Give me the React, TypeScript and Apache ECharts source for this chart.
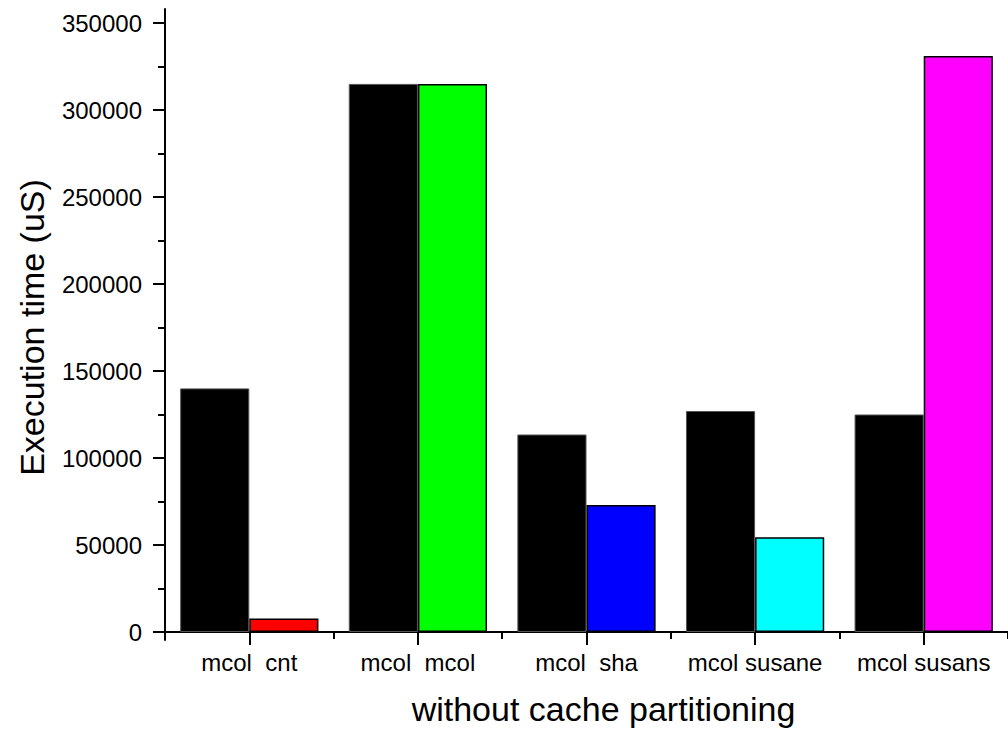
import React, { useEffect, useRef } from "react";
import * as echarts from "echarts";

const categories = ["mcol  cnt", "mcol  mcol", "mcol  sha", "mcol susane", "mcol susans"];
const mcolValues = [140000, 315000, 113500, 127000, 125000];
const partnerValues = [7800, 315000, 73000, 54500, 331000];
const partnerColors = ["#ff0000", "#00ff00", "#0000ff", "#00ffff", "#ff00ff"];
const yMin = 0;
const yMax = 350000;
const yInterval = 50000;

const FONT = "Liberation Sans, Arial, sans-serif";

export default function App() {
  const ref = useRef<HTMLDivElement>(null);
  useEffect(() => {
    if (!ref.current) return;
    const chart = echarts.init(ref.current, null, { renderer: "svg" });
    const gridBase = { left: 165, right: -4, bottom: 91 };
    chart.setOption({
      animation: false,
      backgroundColor: "#ffffff",
      grid: [
        { ...gridBase, top: 23 },
        { ...gridBase, top: 9 },
      ],
      xAxis: [
        {
          type: "category",
          gridIndex: 0,
          position: "bottom",
          data: categories,
          axisLine: { show: true, lineStyle: { color: "#000", width: 2 } },
          axisTick: { show: true, alignWithLabel: false, length: 7, lineStyle: { color: "#000", width: 2 } },
          axisLabel: { color: "#000", fontSize: 24, fontFamily: FONT, margin: 18, interval: 0 },
          name: "without cache partitioning",
          nameLocation: "middle",
          nameGap: 60,
          nameTextStyle: { color: "#000", fontSize: 34, fontFamily: FONT, padding: [0, 0, 0, 34] },
          splitLine: { show: false },
        },
        {
          type: "category",
          gridIndex: 0,
          position: "bottom",
          data: categories,
          axisLine: { show: false },
          axisTick: { show: true, alignWithLabel: true, length: 13, lineStyle: { color: "#000", width: 2 } },
          axisLabel: { show: false },
          splitLine: { show: false },
        },
        {
          type: "category",
          gridIndex: 1,
          data: categories,
          show: false,
        },
      ],
      yAxis: [
        {
          type: "value",
          gridIndex: 0,
          min: yMin,
          max: yMax,
          interval: yInterval,
          axisLine: { show: true, lineStyle: { color: "#000", width: 2 } },
          axisTick: { show: true, length: 12, lineStyle: { color: "#000", width: 2 } },
          minorTick: { show: true, splitNumber: 2, length: 7, lineStyle: { color: "#000", width: 2 } },
          axisLabel: {
            color: "#000",
            fontSize: 24,
            fontFamily: FONT,
            margin: 23,
            formatter: (v: number) => String(v),
          },
          splitLine: { show: false },
          name: "Execution time (uS)",
          nameLocation: "middle",
          nameGap: 116,
          nameTextStyle: { color: "#000", fontSize: 34, fontFamily: FONT },
        },
        {
          type: "value",
          gridIndex: 1,
          min: 0,
          max: 1,
          axisLine: { show: true, lineStyle: { color: "#000", width: 2 } },
          axisTick: { show: false },
          axisLabel: { show: false },
          splitLine: { show: false },
        },
      ],
      series: [
        {
          name: "mcol",
          type: "bar",
          xAxisIndex: 0,
          yAxisIndex: 0,
          data: mcolValues,
          barGap: "0%",
          barCategoryGap: "18%",
          itemStyle: { color: "#000", borderColor: "#555", borderWidth: 1 },
        },
        {
          name: "partner",
          type: "bar",
          xAxisIndex: 0,
          yAxisIndex: 0,
          data: partnerValues.map((v, i) => ({ value: v, itemStyle: { color: partnerColors[i] } })),
          barGap: "0%",
          barCategoryGap: "18%",
          itemStyle: { borderColor: "#000", borderWidth: 1.5 },
        },
      ],
    });
    return () => chart.dispose();
  }, []);
  return (
    <div
      ref={ref}
      style={{ position: "fixed", left: 0, top: 0, width: 1008, height: 731, background: "#fff" }}
    />
  );
}
